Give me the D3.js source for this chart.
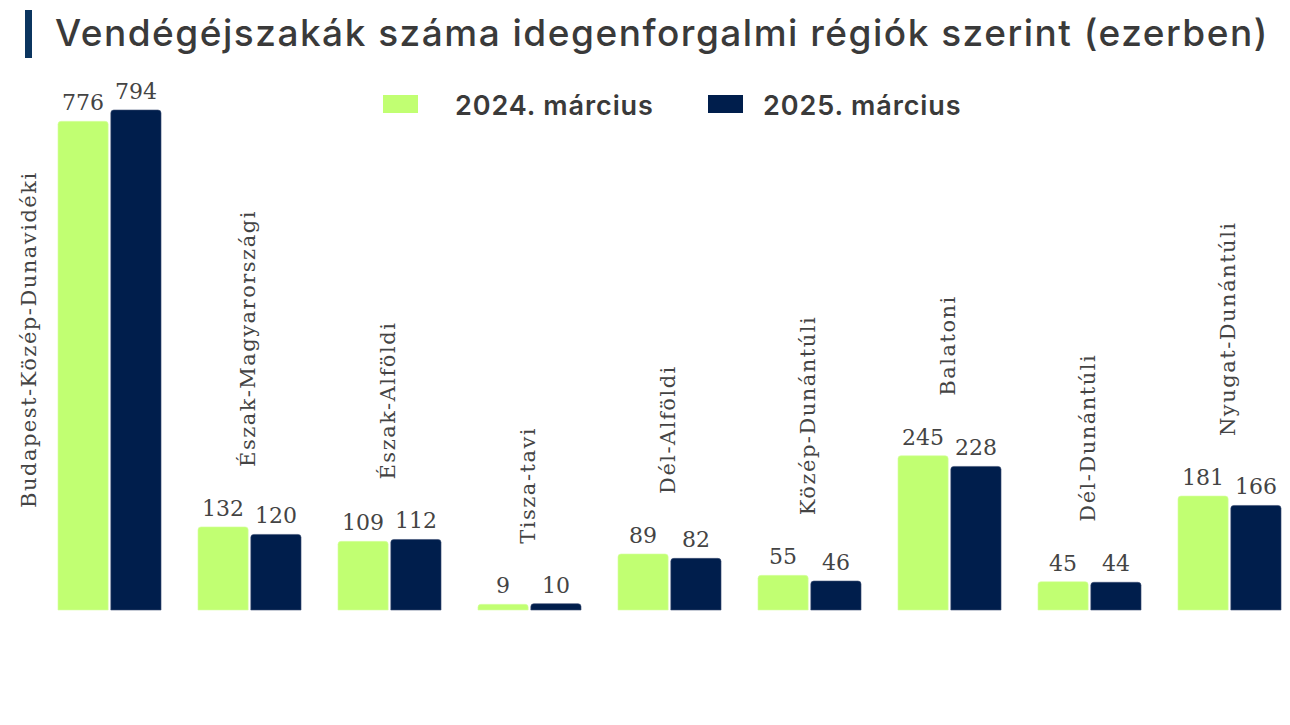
<!DOCTYPE html>
<html lang="hu">
<head>
<meta charset="utf-8">
<script src="https://cdn.jsdelivr.net/npm/d3@7"></script>
<style>
body { margin: 0; background: #fff; }
.title { font-family: Inter, Roboto, sans-serif; font-weight: 500; fill: #3a3a3a; letter-spacing: 1.5px; }
.legend text { font-family: Inter, Roboto, sans-serif; font-weight: 600; fill: #3a3a3a; letter-spacing: 0.9px; }
.value { font-family: "DejaVu Serif", serif; fill: #444; }
.cat { font-family: "DejaVu Serif", serif; fill: #444; letter-spacing: 1.5px; }
</style>
</head>
<body>
<div id="chart"></div>
<script>
// regions and values (thousand guest nights)
var regions = ["Budapest-Közép-Dunavidéki", "Észak-Magyarországi", "Észak-Alföldi",
    "Tisza-tavi", "Dél-Alföldi", "Közép-Dunántúli", "Balatoni", "Dél-Dunántúli", "Nyugat-Dunántúli"];
var series = ["2024. március", "2025. március"];
var values2024 = [776, 132, 109, 9, 89, 55, 245, 45, 181];
var values2025 = [794, 120, 112, 10, 82, 46, 228, 44, 166];
var colors = ["#c1ff72", "#001e4c"];

var width = 1290, height = 725,
    baseline = 610;

var svg = d3.select("#chart").append("svg")
    .attr("width", width)
    .attr("height", height);

// title with accent bar
svg.append("rect")
    .attr("x", 25).attr("y", 10)
    .attr("width", 7).attr("height", 48)
    .attr("fill", "#0b355f");
svg.append("text")
    .attr("class", "title")
    .attr("x", 55).attr("y", 46)
    .style("font-size", "37px")
    .text("Vendégéjszakák száma idegenforgalmi régiók szerint (ezerben)");

// legend
var legendX = [383, 708];
var legend = svg.append("g").attr("class", "legend")
    .selectAll("g")
    .data(series)
    .enter().append("g")
    .attr("transform", function (d, i) { return "translate(" + legendX[i] + ",95)"; });
legend.append("rect")
    .attr("width", 35).attr("height", 18)
    .attr("fill", function (d, i) { return colors[i]; });
legend.append("text")
    .attr("x", function (d, i) { return i === 0 ? 72 : 55; })
    .attr("y", 20)
    .style("font-size", "27px")
    .text(function (d) { return d; });

var data = regions.map(function (r, i) {
    return { region: r, vals: [values2024[i], values2025[i]] };
});

var x = d3.scaleBand()
    .domain(regions)
    .range([39.5, 1299.5])
    .paddingInner(0.264)
    .paddingOuter(0.132);

var xs = d3.scaleBand()
    .domain(d3.range(series.length))
    .range([0, x.bandwidth()])
    .paddingInner(0.05);

var y = d3.scaleLinear()
    .domain([0, 794])
    .range([baseline, 110]);

// bar with rounded top corners only
function barPath(x0, y0, w, h) {
    var r = Math.min(3, h / 2);
    return "M" + x0 + "," + (y0 + h) +
        "V" + (y0 + r) +
        "Q" + x0 + "," + y0 + " " + (x0 + r) + "," + y0 +
        "H" + (x0 + w - r) +
        "Q" + (x0 + w) + "," + y0 + " " + (x0 + w) + "," + (y0 + r) +
        "V" + (y0 + h) + "Z";
}

var group = svg.selectAll(".group")
    .data(data)
    .enter().append("g")
    .attr("class", "group")
    .attr("transform", function (d) { return "translate(" + x(d.region) + ",0)"; });

group.selectAll("path")
    .data(function (d) { return d.vals; })
    .enter().append("path")
    .attr("d", function (v, i) {
        return barPath(xs(i), y(v), xs.bandwidth(), baseline - y(v));
    })
    .attr("fill", function (v, i) { return colors[i]; })
    .attr("stroke", function (v, i) { return i ? "#3c4f74" : "#d6ffa3"; })
    .attr("stroke-width", 0.6);

group.selectAll(".value")
    .data(function (d) { return d.vals; })
    .enter().append("text")
    .attr("class", "value")
    .attr("x", function (v, i) { return xs(i) + xs.bandwidth() / 2; })
    .attr("y", function (v) { return y(v) - 11; })
    .attr("text-anchor", "middle")
    .style("font-size", "22px")
    .text(function (v) { return v; });

// rotated category labels above the bars; the first one sits beside its bars
group.append("text")
    .attr("class", "cat")
    .attr("text-anchor", "start")
    .attr("dominant-baseline", "middle")
    .style("font-size", "21px")
    .attr("transform", function (d, i) {
        var top = y(d3.max(d.vals));
        var cx = i === 0 ? -27 : x.bandwidth() / 2;
        var by = i === 0 ? baseline - 102 : top - 60;
        return "translate(" + cx + "," + by + ") rotate(-90)";
    })
    .text(function (d) { return d.region; });
</script>
</body>
</html>
